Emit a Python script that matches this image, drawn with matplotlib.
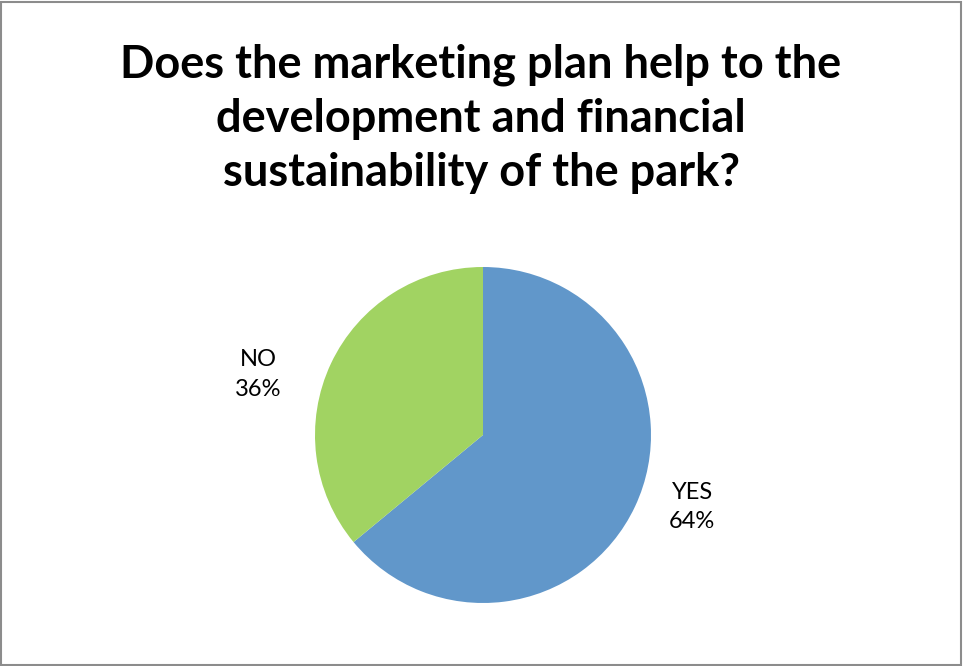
import matplotlib
matplotlib.use("Agg")
import matplotlib.pyplot as plt
from matplotlib.patches import Rectangle

# Survey answers
categories = ["YES", "NO"]
shares = [64, 36]
colors = ["#6197CA", "#A1D362"]
title = "Does the marketing plan help to the\ndevelopment and financial\nsustainability of the park?"

W, H = 963, 666
fig = plt.figure(figsize=(W / 100, H / 100), dpi=100)
fig.patch.set_facecolor("white")

# outer chart-area frame
fig.add_artist(Rectangle((1 / W, 1 / H), (W - 3) / W, (H - 3) / H,
                         transform=fig.transFigure, fill=False,
                         edgecolor="#8c8c8c", linewidth=1.5))

fig.text(481 / W, 1 - 119 / H, title, ha="center", va="center",
         fontsize=32.5, fontweight="bold", family="Lato", linespacing=1.36)

cx, cy, r = 483, 435, 168
ax = fig.add_axes([(cx - r) / W, (H - cy - r) / H, 2 * r / W, 2 * r / H])
ax.pie(shares, colors=colors, startangle=90, counterclock=False,
       radius=1.0, wedgeprops=dict(linewidth=0))
ax.set_xlim(-1, 1)
ax.set_ylim(-1, 1)
ax.set_aspect("auto")
ax.axis("off")

label_pos = {"YES": (1.245, -0.43), "NO": (-1.34, 0.36)}
for cat, val in zip(categories, shares):
    x, y = label_pos[cat]
    ax.text(x, y, f"{cat}\n{val}%", ha="center", va="center",
            fontsize=17, family="Lato", linespacing=1.5, clip_on=False)

fig.savefig("out.png", dpi=100)
